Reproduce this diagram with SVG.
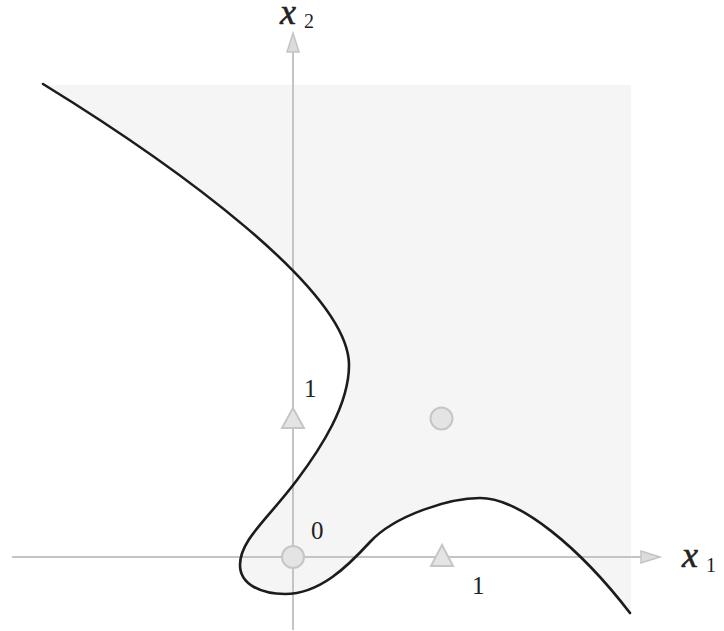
<svg xmlns="http://www.w3.org/2000/svg" width="724" height="631" viewBox="0 0 724 631">
<style>
.axis{stroke:#c4c4c4;stroke-width:2;fill:none}
.arrow{fill:#dcdcdc;stroke:#c4c4c4;stroke-width:1.5}
.mark{fill:#e4e4e4;stroke:#c6c6c6;stroke-width:2}
.curve{fill:none;stroke:#1c1c1c;stroke-width:2.6;stroke-linecap:round}
.lbl{font-family:"Liberation Serif","Times New Roman",serif;fill:#222}
.var{font-family:"Liberation Serif","Times New Roman",serif;font-style:italic;font-size:36px;stroke:#222;stroke-width:0.6}
.sub{font-size:20px}
.num{font-size:25px}
</style>
<rect width="724" height="631" fill="#ffffff"/>
<g id="region">
<path fill="#f5f5f5" d="M43,84 C173,164 349,290 349,365 C349,405 321,448 297,480 C267,520 240,540 240,565 C240,585 262,594 285,594 C320,594 348,566 370,542 C395,515 450,498 480,498 C520,498 580,548 630,613 L631,613 L631,85 L43,85 Z"/>
</g>
<g id="connectors">
<line class="axis" x1="293" y1="630" x2="293" y2="50"/>
<polygon class="arrow" points="293,33 287,52 299,52"/>
<line class="axis" x1="12" y1="557" x2="642" y2="557"/>
<polygon class="arrow" points="660,557 641,551 641,563"/>
</g>
<g id="boundary">
<path class="curve" d="M43,84 C173,164 349,290 349,365 C349,405 321,448 297,480 C267,520 240,540 240,565 C240,585 262,594 285,594 C320,594 348,566 370,542 C395,515 450,498 480,498 C520,498 580,548 630,613"/>
</g>
<g id="circle-origin"><circle class="mark" cx="293" cy="557" r="11"/></g>
<g id="circle-11"><circle class="mark" cx="441.500" cy="418.500" r="11"/></g>
<g id="triangle-01"><polygon class="mark" points="293,408 282,428 304,428"/></g>
<g id="triangle-10"><polygon class="mark" points="442,545 431,566 453,566"/></g>
<g id="labels">
<text class="lbl" x="280" y="24"><tspan class="var">x</tspan><tspan class="sub" dx="8" dy="4">2</tspan></text>
<text class="lbl" x="682" y="567"><tspan class="var">x</tspan><tspan class="sub" dx="8" dy="5">1</tspan></text>
<text class="lbl num" x="304" y="397">1</text>
<text class="lbl num" x="311" y="539">0</text>
<text class="lbl num" x="472" y="594">1</text>
</g>
</svg>
